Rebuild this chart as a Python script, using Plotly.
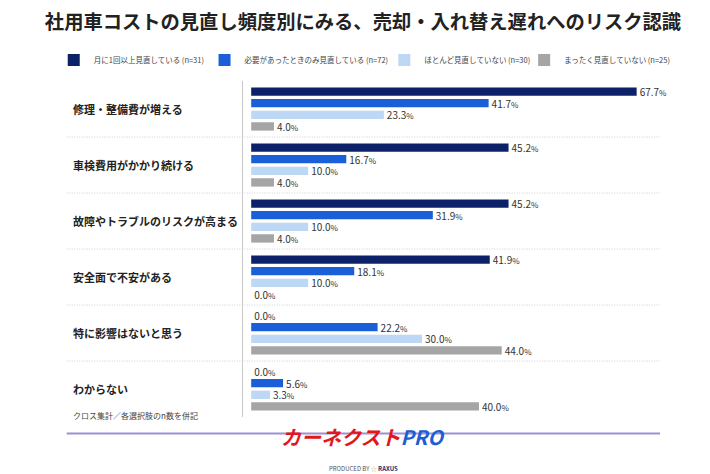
import plotly.graph_objects as go

# categories (top to bottom) and series values (%)
categories = ["修理・整備費が増える", "車検費用がかかり続ける", "故障やトラブルのリスクが高まる",
              "安全面で不安がある", "特に影響はないと思う", "わからない"]
monthly = [67.7, 45.2, 45.2, 41.9, 0.0, 0.0]
as_needed = [41.7, 16.7, 31.9, 18.1, 22.2, 5.6]
rarely = [23.3, 10.0, 10.0, 10.0, 30.0, 3.3]
never = [4.0, 4.0, 4.0, 0.0, 44.0, 40.0]

series_names = ["月に1回以上見直している (n=31)", "必要があったときのみ見直している (n=72)",
                "ほとんど見直していない (n=30)", "まったく見直していない (n=25)"]
series_colors = ["#0c2168", "#1a5fd8", "#bdd7f4", "#a5a5a5"]

FONT = "Noto Sans CJK JP"
W, H = 710, 474
ML, MR, MT, MB = 234.5, 58, 73, 65
pw, ph = W - ML - MR, H - MT - MB


def px_x(x):
    return (x - ML) / pw


def px_y(y):
    return (H - MB - y) / ph


legend_ids = ["legend", "legend2", "legend3", "legend4"]
legend_px = [45, 196, 376, 516]

fig = go.Figure()
for name, vals, col, lg in zip(series_names, [monthly, as_needed, rarely, never], series_colors, legend_ids):
    fig.add_trace(go.Bar(
        y=categories, x=vals, name=name, orientation="h", legend=lg,
        marker=dict(color=col, line=dict(width=0)),
        texttemplate="%{x:.1f}<span style='font-size:8px'>%</span>",
        textposition="outside", constraintext="none", cliponaxis=False,
        textfont=dict(family=FONT, size=10, color="#333333"),
        hoverinfo="skip",
    ))

# category labels, left aligned
for c in categories:
    fig.add_annotation(x=px_x(62), xref="paper", y=c, yref="y", text=c, showarrow=False,
                       xanchor="left", font=dict(family=FONT, size=11, color="#222222", weight="bold"))

# dotted separators between categories
for i in range(len(categories) - 1):
    fig.add_shape(type="line", xref="paper", yref="y", x0=px_x(58), x1=1.0, y0=i + 0.5, y1=i + 0.5,
                  line=dict(color="#cfcfcf", width=1, dash="1px,1.5px"))

# bottom rule and footnote
fig.add_shape(type="line", xref="paper", yref="paper", x0=px_x(58), x1=1.0, y0=px_y(425.5), y1=px_y(425.5),
              line=dict(color="#9c92d2", width=2))
fig.add_annotation(x=px_x(62), y=px_y(415), xref="paper", yref="paper", showarrow=False, xanchor="left",
                   text="クロス集計／各選択肢のn数を併記", font=dict(family=FONT, size=8, color="#444444"))

# logo text
fig.add_annotation(x=px_x(355), y=px_y(445), xref="paper", yref="paper", showarrow=False, xanchor="center",
                   text="<b><i><span style='color:#e3161c'>カーネクスト</span><span style='color:#1d5fd3'>PRO</span></i></b>",
                   font=dict(family=FONT, size=20))
fig.add_annotation(x=px_x(355), y=px_y(467), xref="paper", yref="paper", showarrow=False, xanchor="center",
                   text="PRODUCED BY <span style='color:#c9a23a'>☆</span> <b><span style='color:#1b2f6b'>RAXUS</span></b>",
                   font=dict(family=FONT, size=6, color="#555555"))

legend_style = dict(orientation="h", xanchor="left", y=px_y(52), yanchor="middle",
                    font=dict(family=FONT, size=7.5, color="#444444"), itemwidth=30,
                    bgcolor="rgba(0,0,0,0)")
legends = {lg: dict(x=px_x(lx), **legend_style) for lg, lx in zip(legend_ids, legend_px)}

fig.update_layout(
    width=W, height=H, margin=dict(l=ML, r=MR, t=MT, b=MB),
    paper_bgcolor="white", plot_bgcolor="white",
    font=dict(family=FONT),
    title=dict(text="<b>社用車コストの見直し頻度別にみる、売却・入れ替え遅れへのリスク認識</b>",
               x=0.5, xanchor="center", y=(H - 14) / H, yanchor="middle",
               font=dict(family=FONT, size=19.3, color="#222222")),
    barmode="group", bargap=0.17, bargroupgap=0.28,
    showlegend=True,
    **legends,
)
fig.update_xaxes(range=[-1.44, 71.8], showgrid=False, zeroline=False, showticklabels=False, showline=False)
fig.update_yaxes(autorange="reversed", showticklabels=False, showgrid=False, zeroline=False,
                 showline=True, linecolor="#c8c8c8", linewidth=1)

fig.write_html("out.html")
